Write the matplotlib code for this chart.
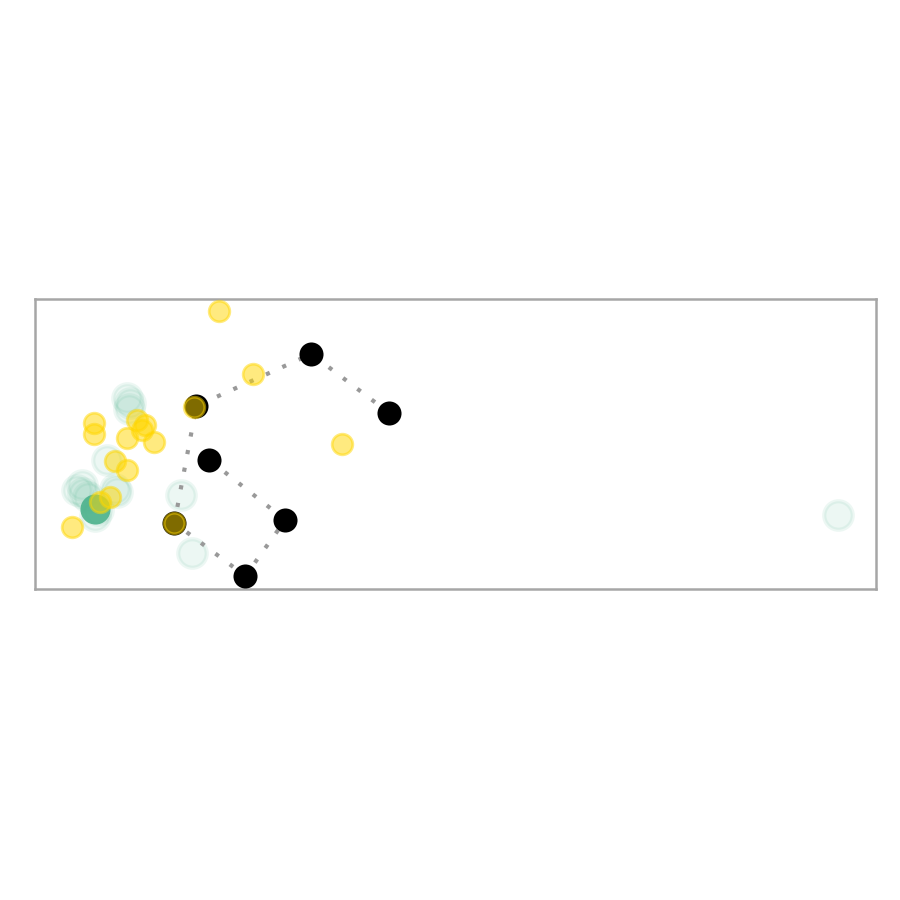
import matplotlib
matplotlib.use("Agg")
import matplotlib.pyplot as plt

# teal points (faint, many overlapping)
teal_x = [80.3, 14.6, 15.7, 9.2, 9.5, 9.4, 7.2, 4.7, 4.2, 5.3, 8.0, 8.2, 6.0, 6.3, 4.8]
teal_y = [7.4, 9.4, 3.6, 19.1, 18.6, 18.0, 12.9, 10.4, 9.9, 9.2, 10.0, 9.7, 7.3, 7.9, 9.6]

# solid teal point
core_x = [6.0]
core_y = [8.0]

# yellow points
yellow_x = [18.4, 21.8, 15.9, 5.9, 5.9, 9.2, 10.2, 11.0, 10.7, 11.9, 30.7, 8.0, 9.2, 6.5, 7.5, 3.7, 13.9]
yellow_y = [27.8, 21.5, 18.2, 16.6, 15.5, 15.1, 16.9, 16.4, 15.9, 14.7, 14.5, 12.8, 11.9, 8.7, 9.2, 6.2, 6.6]

# black points, in path order
path_x = [35.4, 27.6, 16.1, 13.9, 21.0, 25.0, 17.4]
path_y = [17.6, 23.5, 18.3, 6.6, 1.3, 6.9, 12.9]

fig = plt.figure(figsize=(9, 9), dpi=100)
ax = fig.add_axes([0.0394, 0.3456, 0.9339, 0.3222])

teal = "#4cb28c"
gold = "#ffd700"

ax.scatter(teal_x, teal_y, s=420, color=teal, alpha=0.1, linewidths=3, zorder=1)
ax.scatter(core_x, core_y, s=470, color=teal, alpha=0.9, linewidths=0, zorder=1)
ax.plot(path_x, path_y, color="#999999", lw=3, linestyle=(0, (1, 3.3)), zorder=2)
ax.scatter(path_x, path_y, s=300, color="black", linewidths=0, zorder=3)
ax.scatter(yellow_x, yellow_y, s=220, color=gold, alpha=0.5, linewidths=2, zorder=4)

ax.set_xlim(0, 84.1)
ax.set_ylim(0, 29.0)
ax.set_xticks([])
ax.set_yticks([])
for sp in ax.spines.values():
    sp.set_color("#a6a6a6")
    sp.set_linewidth(1.8)

fig.savefig("out.png", dpi=100)
